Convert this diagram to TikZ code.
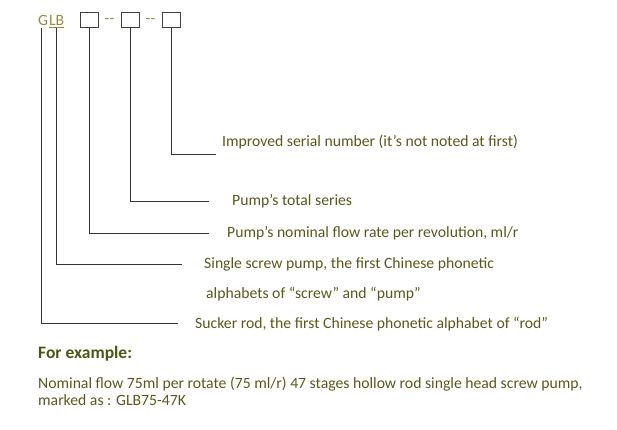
\documentclass[tikz,border=0pt]{standalone}
\usepackage{fontspec}
\setmainfont{Carlito}
\usetikzlibrary{positioning}
\definecolor{olivetext}{RGB}{88,88,26}
\definecolor{codetext}{RGB}{150,140,60}
\definecolor{boldtext}{RGB}{78,84,20}

\begin{document}
\begin{tikzpicture}[
    x=1pt, y=-1pt,
    node distance=0pt and 6.3pt,
    font=\fontsize{15.7}{18}\selectfont,
    slot/.style={rectangle, draw=black!75, minimum width=18pt, minimum height=15pt, inner sep=0pt},
    code/.style={text=codetext, inner sep=0pt},
    desc/.style={anchor=west, text=olivetext, inner sep=0pt},
    lead/.style={draw=black!80, line width=0.8pt}
]
\useasboundingbox (0,0) rectangle (617,429);

% Code line
\node[code, anchor=west] (g) at (38,20) {G};
\node[code, right=0.6pt of g] (lb) {LB};
\node[slot] (s1) at (89,20) {};
\node[code, right=of s1, yshift=-1pt] (dash1) {-{}-};
\node[slot, right=of dash1, yshift=1pt] (s2) {};
\node[code, right=of s2, yshift=-1pt] (dash2) {-{}-};
\node[slot, right=of dash2, yshift=1pt] (s3) {};
\draw[codetext, line width=0.8pt] ([yshift=-2pt]lb.south west) -- ([yshift=-2pt]lb.south east);

% Descriptions
\node[desc] (d3) at (222,142) {Improved serial number (it’s not noted at first)};
\node[desc] (d2) at (232,201) {Pump’s total series};
\node[desc] (d1) at (227,233) {Pump’s nominal flow rate per revolution, ml/r};
\node[desc] (dl) at (204,264) {Single screw pump, the first Chinese phonetic};
\node[desc] (dl2) at (206,294) {alphabets of “screw” and “pump”};
\node[desc] (dg) at (195,324) {Sucker rod, the first Chinese phonetic alphabet of “rod”};

% Leaders
\coordinate (e3) at (216,154);
\coordinate (e2) at (209,201);
\coordinate (e1) at (209,233);
\coordinate (el) at (182,264);
\coordinate (eg) at (178,323);
\draw[lead] (s3.south) |- (e3);
\draw[lead] (s2.south) |- (e2);
\draw[lead] (s1.south) |- (e1);
\draw[lead] ([yshift=-3pt]lb.south) |- (el);
\draw[lead] ([yshift=-3pt,xshift=-1.5pt]g.south) |- (eg);

% Example
\node[desc, text=boldtext, font=\fontsize{17.5}{20}\selectfont\bfseries] (ex) at (38,354) {For example:};
\node[desc] (ex1) at (38,384) {Nominal flow 75ml per rotate (75 ml/r) 47 stages hollow rod single head screw pump,};
\node[desc] (ex2) at (38,400) {marked as : GLB75-47K};

\end{tikzpicture}
\end{document}
